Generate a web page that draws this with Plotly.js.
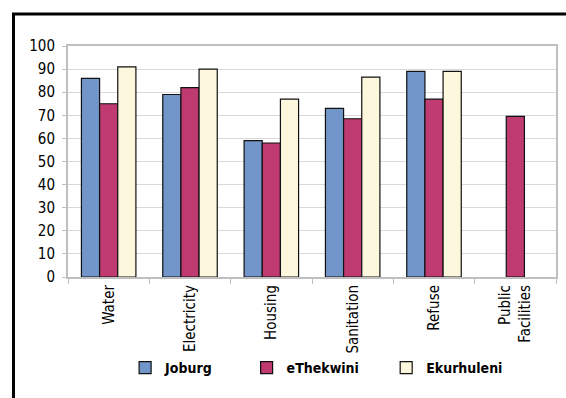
<!DOCTYPE html>
<html>
<head>
<meta charset="utf-8">
<script src="https://cdn.plot.ly/plotly-3.0.1.min.js"></script>
<style>
  html, body { margin: 0; padding: 0; background: #fff; }
  #chart { width: 566px; height: 398px; }
</style>
</head>
<body>
<div id="chart"></div>
<script>
// Service categories along the x axis
const categories = ['Water', 'Electricity', 'Housing', 'Sanitation', 'Refuse', 'Public<br>Facilities'];

// Satisfaction (%) per metro
const joburg     = [86, 79, 59, 73, 89, null];
const eThekwini  = [75, 82, 58, 68.5, 77, 69.5];
const ekurhuleni = [91, 90, 77, 86.5, 89, null];

const seriesNames  = ['Joburg', 'eThekwini', 'Ekurhuleni'];
const seriesColors = ['#7396CA', '#BE3A70', '#FDF8DD'];

const yTicks = [0, 10, 20, 30, 40, 50, 60, 70, 80, 90, 100];

const FONT = '"Liberation Sans Narrow", "DejaVu Sans Condensed", "Arial Narrow", sans-serif';

const values = [joburg, eThekwini, ekurhuleni];
const legendIds = ['legend', 'legend2', 'legend3'];

const traces = values.map((v, i) => ({
  type: 'bar',
  name: seriesNames[i],
  x: categories,
  y: v,
  legend: legendIds[i],
  showlegend: true,
  marker: { color: seriesColors[i], line: { color: '#111', width: 1.2 } },
  hoverinfo: 'x+y+name'
}));

const legendBase = {
  orientation: 'h',
  y: -0.394,
  yanchor: 'middle',
  xanchor: 'left',
  bgcolor: 'rgba(0,0,0,0)',
  font: { family: FONT, size: 14, color: '#000', weight: 'bold' },
  itemwidth: 30
};

const layout = {
  width: 566,
  height: 398,
  margin: { l: 68, r: 10, t: 46, b: 121 },
  paper_bgcolor: '#fff',
  plot_bgcolor: '#fff',
  showlegend: true,
  bargap: 0.33,
  bargroupgap: 0,
  barmode: 'group',
  font: { family: FONT, size: 15, color: '#000' },
  xaxis: {
    type: 'category',
    tickangle: -90,
    tickson: 'boundaries',
    ticks: 'outside',
    ticklen: 5,
    tickcolor: '#BFBFBF',
    tickwidth: 1,
    showline: true,
    linecolor: '#BFBFBF',
    linewidth: 2,
    mirror: true,
    showgrid: false,
    tickfont: { family: FONT, size: 15, color: '#000' }
  },
  yaxis: {
    range: [0, 100],
    tickvals: yTicks,
    ticks: 'outside',
    ticklen: 4,
    tickcolor: '#BFBFBF',
    ticklabelstandoff: 4,
    showline: true,
    linecolor: '#BFBFBF',
    linewidth: 2,
    mirror: true,
    showgrid: true,
    gridcolor: '#D9D9D9',
    gridwidth: 1,
    zeroline: false,
    tickfont: { family: FONT, size: 15, color: '#000' }
  },
  legend:  Object.assign({}, legendBase, { x: 0.117 }),
  legend2: Object.assign({}, legendBase, { x: 0.366 }),
  legend3: Object.assign({}, legendBase, { x: 0.652 }),
  shapes: [{
    type: 'rect',
    xref: 'paper', yref: 'paper',
    x0: -0.1117, x1: 1.06,
    y0: -0.65, y1: 1.1385,
    line: { color: '#000', width: 3 },
    fillcolor: 'rgba(0,0,0,0)',
    layer: 'above'
  }]
};

Plotly.newPlot('chart', traces, layout, { displayModeBar: false, staticPlot: true });
</script>
</body>
</html>
